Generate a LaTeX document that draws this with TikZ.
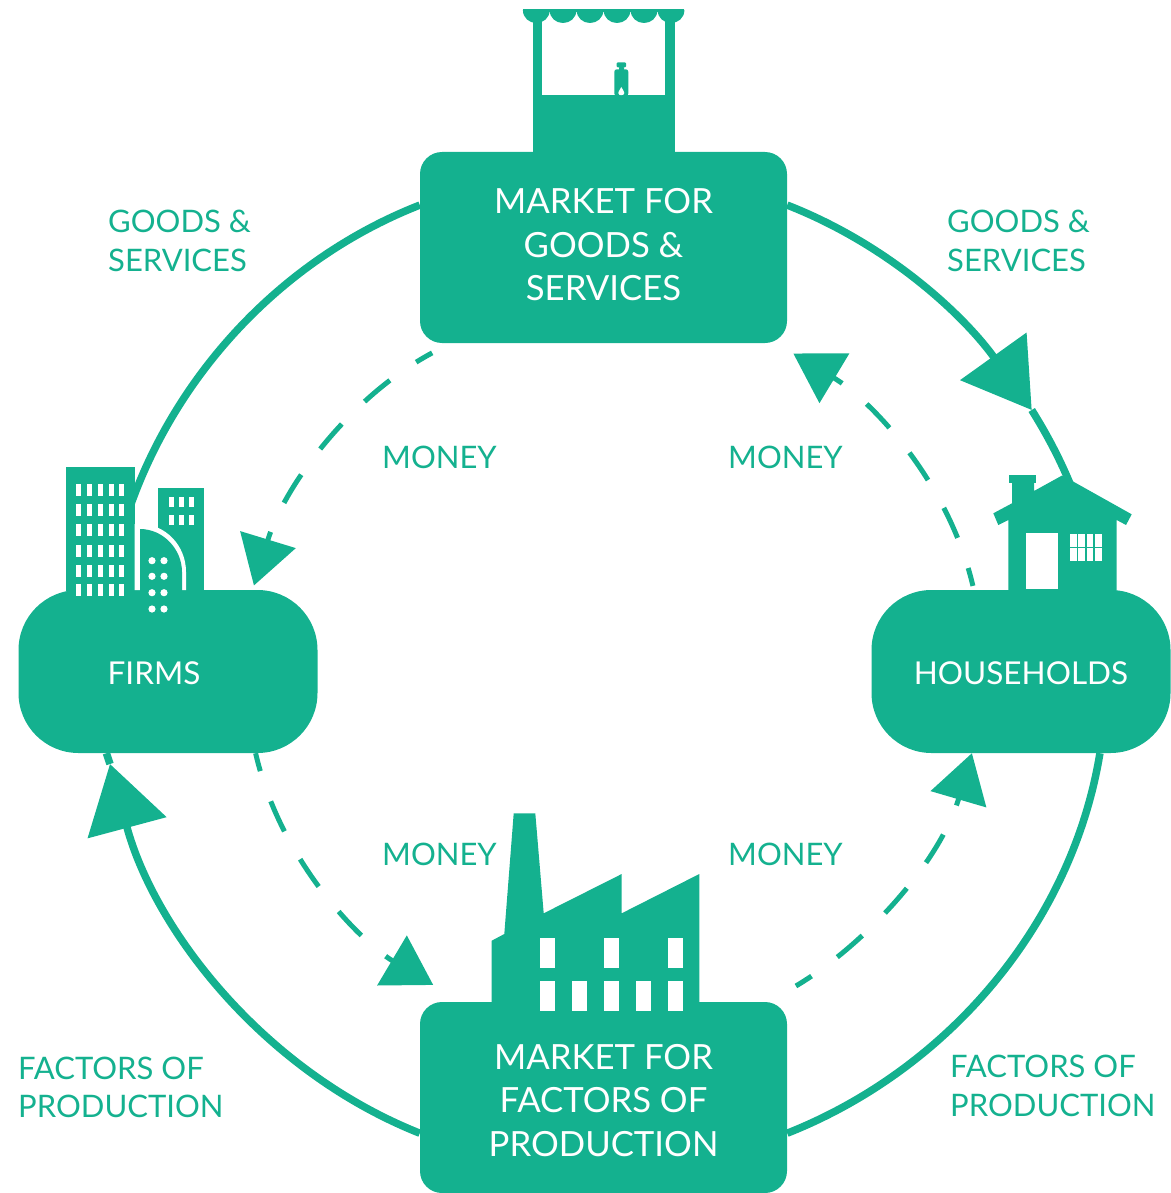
\documentclass[tikz,border=0pt]{standalone}
\usepackage{fontspec}
\setmainfont{Lato}
\usetikzlibrary{arrows.meta}
\definecolor{flowgreen}{HTML}{14B18F}
\begin{document}
\begin{tikzpicture}[
    x=1pt, y=-1pt,
    box/.style={rectangle, rounded corners=22pt, fill=flowgreen, minimum width=367pt, minimum height=191pt, text=white, align=center, font=\fontsize{34.7}{43.5}\selectfont},
    agent/.style={rectangle, rounded corners=60pt, fill=flowgreen, minimum width=299pt, minimum height=163pt, text=white, font=\fontsize{31.5}{38}\selectfont},
    caption/.style={text=flowgreen, align=left, anchor=west, inner sep=0pt, font=\fontsize{31}{38.5}\selectfont},
    goods/.style={draw=flowgreen, line width=7.5pt, looseness=0.9},
    money/.style={draw=flowgreen, line width=5pt, looseness=0.9, dash pattern=on 33pt off 32pt, dash phase=14.5pt},
    bigtip/.style={-{Triangle[length=66pt, width=80pt, fill=flowgreen]}},
    smalltip/.style={-{Triangle[length=48pt, width=57pt, fill=flowgreen]}},
    icon/.style={fill=flowgreen},
    hole/.style={fill=white}
]
    \useasboundingbox (0,0) rectangle (1170,1193);

    % Nodes
    \node[box] (goodsmarket) at (603.5,247.5) {MARKET FOR\\GOODS \&\\\rule[-6pt]{0pt}{0pt}SERVICES};
    \node[box, below of=goodsmarket, node distance=850pt] (factormarket) {\rule{0pt}{31pt}MARKET FOR\\FACTORS OF\\PRODUCTION};
    \node[agent] (firms) at (168,671.5) {};
    \node[agent, right of=firms, node distance=853pt] (households) {\rule{0pt}{27pt}HOUSEHOLDS};
    \node[text=white, font=\fontsize{31.5}{38}\selectfont] (firmsname) at (154,673) {FIRMS};

    % Labels
    \node[caption] (goodsleft) at (108,241) {GOODS \&\\SERVICES};
    \node[caption] (goodsright) at (947,241) {GOODS \&\\SERVICES};
    \node[caption] (factorsleft) at (18,1087.5) {FACTORS OF\\PRODUCTION};
    \node[caption] (factorsright) at (950,1086) {FACTORS OF\\PRODUCTION};
    \node[caption] (moneya) at (382,457) {MONEY};
    \node[caption] (moneyb) at (728,457) {MONEY};
    \node[caption] (moneyc) at (382,854) {MONEY};
    \node[caption] (moneyd) at (728,854) {MONEY};

    % Arrows
    \coordinate (hometip) at (1031.7,410);
    \coordinate (firmtip) at (110,764);
    \draw[goods, bigtip] (goodsmarket.13) to[out=-21.4, in=125.6] (hometip);
    \draw[goods] (hometip) to[out=-58, in=99.4] (households.46);
    \draw[goods] (goodsmarket.167) to[out=201.4, in=80.6] (firms.126);
    \draw[goods] (households.-46) to[out=-99.3, in=21.6] (factormarket.-11.5);
    \draw[goods, bigtip] (factormarket.191.5) to[out=158.3, in=285] (firmtip);
    \draw[goods] (firmtip) -- (firms.233.6);

    % Dashed arrows
    \draw[money, smalltip, shorten <=20.6pt, shorten >=4.5pt] (goodsmarket.212.1) to[out=208.1, in=73] (firms.44.7);
    \draw[money, smalltip, shorten <=4pt, shorten >=20pt] (households.120.7) to[out=103.2, in=-31] (goodsmarket.-29.3);
    \draw[money, smalltip, shorten <=31pt] (factormarket.30.7) to[out=30.7, in=-106.3] (households.239.1);
    \draw[money, smalltip, shorten >=33pt] (firms.-43.8) to[out=283, in=149.3] (factormarket.146);

    % Stall
    \fill[icon] (523,9) rectangle (684,12);
    \foreach \xc in {536.3,563,590,617,644,671}
        \fill[icon] (\xc-13.4,10) .. controls (\xc-13.4,18) and (\xc-7,23) .. (\xc,23) .. controls (\xc+7,23) and (\xc+13.4,18) .. (\xc+13.4,10) -- cycle;
    \fill[icon] (532.7,15) rectangle (542.3,96);
    \fill[icon] (665,15) rectangle (674.7,96);
    \fill[icon] (532.7,95) rectangle (674.7,153);
    \fill[icon, rounded corners=1pt] (616.7,62.3) rectangle (626,67.3);
    \fill[icon, rounded corners=2pt] (619,66) rectangle (624,72);
    \fill[icon, rounded corners=2.5pt] (614.3,69.3) rectangle (628.3,96);
    \fill[hole] (621.3,87) .. controls (619,91) and (618.3,92) .. (618.3,93) .. controls (618.3,96) and (624.3,96) .. (624.3,93) .. controls (624.3,92) and (623.6,91) .. (621.3,87) -- cycle;

    % Office blocks
    \fill[icon] (66,467.3) rectangle (134.7,591);
    \foreach \xw in {76.3,87.3,98,108.7,119}
        \foreach \yw in {484.3,504.3,524.3,545,564.7,584.3}
            \fill[hole] (\xw,\yw) rectangle (\xw+5,\yw+12);
    \fill[icon] (158,487.7) rectangle (204,591);
    \foreach \xw in {168.7,179,188.7}
        \foreach \yw in {497,515}
            \fill[hole] (\xw,\yw) rectangle (\xw+5,\yw+10);
    \fill[hole] (134.7,524) -- (140,524) .. controls (165,524) and (186,545) .. (186,572) -- (186,590) -- (134.7,590) -- cycle;
    \fill[icon] (140,529) .. controls (163,529) and (182,549) .. (182,572) -- (182,591) -- (140,591) -- cycle;
    \foreach \yw in {560.7,576.3,592.7,609}
        \foreach \xw in {152,164}
            \fill[hole] (\xw,\yw) circle (3.6pt);

    % House
    \fill[icon] (1009.3,475) rectangle (1036,482.7);
    \fill[icon] (1012,482) -- (1034,482) -- (1034,491) -- (1061.7,475.7) -- (1071.7,480.7) -- (1131.7,514.3) -- (1126,525) -- (1116.7,520) -- (1116.7,591) -- (1008.3,591) -- (1008.3,520) -- (998.3,525) -- (993.3,513.3) -- (1012,503.3) -- cycle;
    \fill[hole] (1026.3,533) rectangle (1058.3,589.3);
    \foreach \xw/\xe in {1070/1076.7,1078.3/1085.3,1087/1093.3,1095/1101.7}
        \foreach \yw/\ye in {534/546.7,548.3/560.7}
            \fill[hole] (\xw,\yw) rectangle (\xe,\ye);

    % Factory
    \fill[icon] (491.7,1003) -- (491.7,940.7) -- (504.3,934) -- (513.7,813.3) -- (535.3,813.3) -- (543.7,913.3) -- (621.7,874) -- (621.7,913.3) -- (699.3,874) -- (699.3,1003) -- cycle;
    \foreach \xw in {540.3,604.3,668.3}
        \fill[hole] (\xw,938) rectangle (\xw+15,967.7);
    \foreach \xw in {540.3,572.3,604.3,636.3,668.3}
        \fill[hole] (\xw,981) rectangle (\xw+15,1010.7);
\end{tikzpicture}
\end{document}
